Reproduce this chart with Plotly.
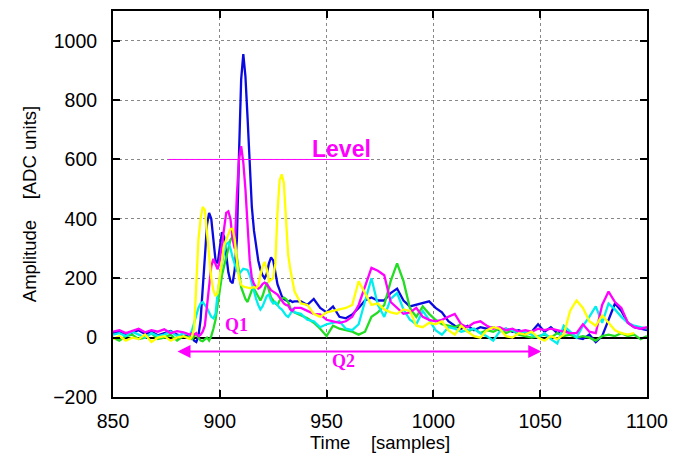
import plotly.graph_objects as go

# Sample index grid: coarse on the pre-trigger baseline, every sample across the
# main pulse, every third sample on the tail.
time = list(range(850, 887, 3)) + list(range(887, 936)) + list(range(938, 1101, 3))

blue = [15, 20, 10, 18, 25, 12, 20, 8, 15, 22, 10, 5, 12,
        0, -10, -15, 5, 60, 150, 270, 380, 420, 400, 320, 260, 250, 310, 355, 340,
        280, 220, 190, 183, 230, 330, 620, 870, 955, 880, 740, 570, 440, 360, 300,
        260, 230, 210, 200, 215, 250, 270, 260, 220, 180, 160, 140, 130, 125, 122,
        125, 120, 122,
        122, 110, 130, 100, 85, 105, 70, 65, 78, 100, 125, 135, 125, 125, 150, 165,
        125, 105, 110, 115, 122, 100, 85, 55, 40, 30, 40, 25, 35, 30, 35, 25, 30,
        20, 25, 15, 20, 45, 20, 35, 15, 25, 15, 0, -5, 10, -15, 5, 60, 115, 90, 50,
        35, 30, 25]

magenta = [20, 25, 15, 22, 30, 18, 25, 20, 28, 15, 22, 18, 10,
           15, 10, 15, 5, 10, 20, 40, 100, 180, 240, 265, 250, 230, 260, 320, 380,
           420, 425, 400, 330, 300, 480, 600, 645, 590, 500, 360, 260, 200, 180, 170,
           165, 170, 180, 185, 180, 170, 160, 155, 150, 145, 135, 125, 115, 110, 108,
           95, 90, 100,
           100, 90, 80, 78, 60, 55, 50, 55, 70, 110, 170, 235, 225, 210, 120, 100, 80,
           85, 100, 70, 60, 55, 60, 70, 80, 45, 35, 50, 55, 40, 30, 35, 25, 30, 20, 25,
           20, 30, 25, 30, 25, 20, 15, 15, 45, 20, 15, 110, 155, 120, 100, 50, 35, 30,
           35]

yellow = [-5, 5, -10, 0, -5, 10, -15, 0, 5, -10, 0, 5, -5,
          5, 30, 200, 330, 400, 440, 430, 360, 270, 200, 160, 140, 150, 200, 260, 311,
          330, 350, 365, 367, 330, 256, 200, 178, 172, 170, 168, 167, 168, 170, 167,
          175, 210, 240, 255, 230, 189, 195, 200, 250, 420, 530, 550, 520, 400, 280,
          230,
          195, 155, 115, 110, 80, 70, 85, 90, 95, 100, 110, 190, 150, 110, 115, 95, 85,
          80, 95, 90, 40, 35, 50, 45, 55, 25, 10, 40, 20, 5, 0, 25, 35, 30, 5, 0, 15,
          10, 20, 0, -10, 5, -5, 10, 90, 125, 100, 55, 40, 75, 50, 25, 15, 10, 15]

green = [0, -10, 5, 10, -5, 0, 15, -5, 0, 10, -10, 5, 0,
         -5, 5, 10, 0, -10, -12, -5, 0, -10, 5, 30, 60, 110, 170, 210, 240, 270, 310,
         330, 340, 320, 270, 210, 170, 150, 130, 120, 140, 160, 165, 150, 135, 125,
         140, 165, 185, 160, 135, 125, 115, 110, 125, 130, 135, 130, 120, 100, 90, 85,
         75, 65, 50, 30, 5, 40, 30, 25, 20, 10, 20, 70, 85, 110, 190, 250, 190, 100,
         70, 105, 80, 60, 45, 40, 35, 45, 20, 30, 15, 25, 20, 30, 15, 25, 10, 5, 0, 5,
         10, 0, 15, 5, 10, 0, 5, 0, -10, 5, 10, 5, 15, 5, 10, -5, 5]

cyan = [10, 15, 5, 20, 10, 0, 15, 5, 10, 20, 5, 15, 10,
        25, 50, 80, 100, 115, 120, 110, 100, 85, 70, 65, 80, 150, 210, 250, 285, 315,
        320, 300, 270, 245, 225, 215, 225, 232, 230, 228, 210, 180, 160, 130, 110, 95,
        105, 125, 140, 145, 125, 115, 120, 110, 100, 95, 85, 75, 70, 80, 95, 85,
        80, 60, 55, 35, 45, 50, 55, 30, 25, 45, 120, 200, 110, 70, 130, 150, 95, 60,
        45, 90, 60, 25, 10, 35, 30, 20, 25, 30, 15, 5, -10, 20, 30, 25, 15, 20, 10, 0,
        15, -5, -20, 40, 20, 0, 40, 70, 105, 50, 115, 95, 70, 50, 40, 35, 30]

traces = [
    ("blue", blue, "#0a0ae0"),
    ("green", green, "#22dd22"),
    ("cyan", cyan, "#00eeee"),
    ("magenta", magenta, "#ff00ff"),
    ("yellow", yellow, "#ffff00"),
]

# Discriminator level and integration windows
level = 600
level_start, level_end = 876, 970
q2_start, q2_end, q2_y = 879.5, 1050.5, -47
q1_pos = (908, 43)
q2_pos = (958, -78)
level_label_pos = (957, 635)

x_ticks = [850, 900, 950, 1000, 1050, 1100]
y_ticks = [-200, 0, 200, 400, 600, 800, 1000]

fig = go.Figure()
for name, vals, col in traces:
    fig.add_trace(go.Scatter(x=time, y=vals, mode="lines", name=name,
                             line=dict(color=col, width=2.3), showlegend=False))

fig.add_shape(type="line", xref="x", yref="y", x0=level_start, x1=level_end,
              y0=level, y1=level, line=dict(color="#ff00ff", width=1))

fig.add_annotation(x=level_label_pos[0], y=level_label_pos[1], text="<b>Level</b>",
                   showarrow=False, font=dict(family="Liberation Sans", size=23, color="#ff00ff"))
fig.add_annotation(x=q1_pos[0], y=q1_pos[1], text="<b>Q1</b>", showarrow=False,
                   font=dict(family="Liberation Serif", size=18, color="#ff00ff"))
fig.add_annotation(x=q2_pos[0], y=q2_pos[1], text="<b>Q2</b>", showarrow=False,
                   font=dict(family="Liberation Serif", size=18, color="#ff00ff"))
fig.add_annotation(x=q2_end, y=q2_y, ax=q2_start, ay=q2_y, xref="x", yref="y",
                   axref="x", ayref="y", text="", showarrow=True,
                   arrowhead=2, startarrowhead=2, arrowside="end+start",
                   arrowsize=1.3, startarrowsize=1.3, arrowwidth=2, arrowcolor="#ff00ff")

axis_common = dict(showline=True, linewidth=2, linecolor="black", mirror="ticks",
                   ticks="inside", ticklen=7, tickwidth=2, tickcolor="black",
                   showgrid=True, gridcolor="#888888", griddash="dot", gridwidth=1,
                   tickfont=dict(family="Liberation Sans", size=19.5, color="black"),
                   zeroline=False)

fig.update_xaxes(range=[850, 1100], tickvals=x_ticks, ticklabelstandoff=6,
                 title=dict(text="Time    [samples]", standoff=4,
                            font=dict(family="Liberation Sans", size=18.5, color="black")),
                 **axis_common)
fig.update_yaxes(range=[-200, 1100], tickvals=y_ticks, ticklabelstandoff=10,
                 title=dict(text="Amplitude    [ADC units]", standoff=12,
                            font=dict(family="Liberation Sans", size=18.5, color="black")),
                 **axis_common)
fig.update_yaxes(zeroline=True, zerolinecolor="black", zerolinewidth=2)

fig.update_layout(width=677, height=458, plot_bgcolor="white", paper_bgcolor="white",
                  margin=dict(l=113, r=23, t=9, b=58), showlegend=False)

fig.write_html("out.html")
